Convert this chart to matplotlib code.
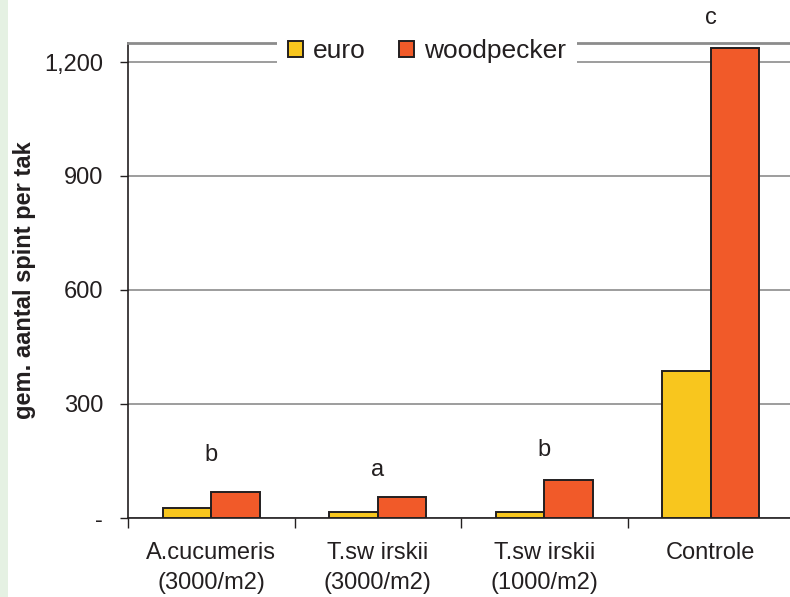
import numpy as np
import matplotlib.pyplot as plt
from matplotlib.patches import Rectangle

# Data
categories = ["A.cucumeris\n(3000/m2)", "T.sw irskii\n(3000/m2)", "T.sw irskii\n(1000/m2)", "Controle"]
euro = [26, 16, 16, 387]
woodpecker = [68, 55, 100, 1237]
letters = ["b", "a", "b", "c"]
letter_y = [166, 126, 179, 1315]
y_ticks = [0, 300, 600, 900, 1200]
y_labels = ["-", "300", "600", "900", "1,200"]

# Styles
plt.rcParams['font.family'] = ['Liberation Sans', 'DejaVu Sans']
text_col = "#231f20"
euro_col = "#f8c61e"
wood_col = "#f15a29"
grid_col = "#8c8c8c"

fig = plt.figure(figsize=(7.9, 5.97), dpi=100)
fig.patches.append(Rectangle((0, 0), 8 / 790, 1, transform=fig.transFigure,
                             facecolor="#e5f1e3", edgecolor="none", zorder=0))

ax = fig.add_axes([128 / 790, 1 - 518 / 597, 666 / 790, 475 / 597])

x = np.arange(len(categories))
w = 0.29
ax.bar(x - w / 2, euro, w, color=euro_col, edgecolor=text_col, linewidth=1.4,
       label="euro", zorder=3)
ax.bar(x + w / 2, woodpecker, w, color=wood_col, edgecolor=text_col, linewidth=1.4,
       label="woodpecker", zorder=3)

for xi, l, ly in zip(x, letters, letter_y):
    ax.text(xi, ly, l, ha="center", va="center", fontsize=17, color=text_col,
            clip_on=False)

ax.set_xlim(-0.5, 3.5)
ax.set_ylim(0, 1250)

ax.set_yticks(y_ticks)
ax.set_yticklabels(y_labels)
ax.yaxis.grid(True, color=grid_col, linewidth=1.2, zorder=0)
ax.set_axisbelow(True)
ax.tick_params(axis="y", direction="out", length=6, width=1, color=text_col,
               labelsize=17, labelcolor=text_col, pad=12)

ax.set_xticks(x)
ax.set_xticklabels(categories, linespacing=1.5)
ax.set_xticks(np.arange(-0.5, 4, 1), minor=True)
ax.tick_params(axis="x", which="major", length=0, labelsize=17,
               labelcolor=text_col, pad=17)
ax.tick_params(axis="x", which="minor", direction="out", length=7, width=1,
               color=text_col)

ax.spines["right"].set_visible(False)
ax.spines["top"].set_color(grid_col)
ax.spines["top"].set_linewidth(2)
ax.spines["left"].set_color(text_col)
ax.spines["left"].set_linewidth(1.2)
ax.spines["bottom"].set_color(text_col)
ax.spines["bottom"].set_linewidth(1.2)

ax.set_ylabel("gem. aantal spint per tak", fontsize=17, fontweight="bold",
              color=text_col, va="center")
ax.yaxis.set_label_coords(-103 / 666, 0.5)

leg = ax.legend(loc="center", bbox_to_anchor=(427 / 790, 1 - 51 / 597),
                bbox_transform=fig.transFigure, ncol=2, fontsize=19,
                frameon=True, facecolor="white", edgecolor="none", framealpha=1,
                fancybox=False, handlelength=0.57, handleheight=0.57,
                handletextpad=0.4, columnspacing=1.25, borderpad=0.4)
for t in leg.get_texts():
    t.set_color(text_col)

fig.savefig("out.png", dpi=100)
